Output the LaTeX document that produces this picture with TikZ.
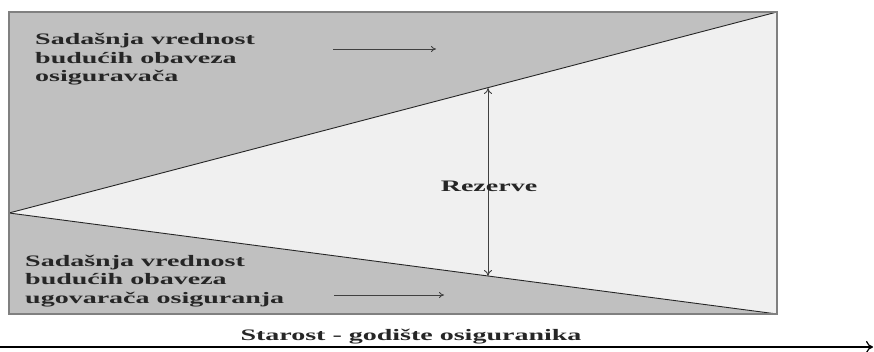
\documentclass[tikz,border=0pt]{standalone}
\usepackage{fontspec}
\newfontfamily\lab[FakeStretch=1.75]{Liberation Serif}
\usetikzlibrary{arrows.meta}
\definecolor{darkfill}{HTML}{C0C0C0}
\definecolor{lightfill}{HTML}{F0F0F0}
\definecolor{frame}{HTML}{808080}
\tikzset{
  txt/.style={font=\lab\bfseries\fontsize{16}{18.5}\selectfont, inner sep=0pt, align=left, text=black!85},
  thinarrow/.style={draw=black!75, line width=0.8pt, -{To[length=5pt,width=6pt]}},
  edge/.style={draw=black!85, line width=0.9pt}
}
\begin{document}
\begin{tikzpicture}[x=1pt,y=-1pt]
\useasboundingbox (0,0) rectangle (874,352);
% corners
\coordinate (tl) at (9,12);
\coordinate (tr) at (777,12);
\coordinate (br) at (777,314);
\coordinate (bl) at (9,314);
\coordinate (apex) at (9,213);
% regions
\fill[darkfill] (tl) rectangle (br);
\fill[lightfill] (apex) -- (tr) -- (br) -- cycle;
\draw[edge] (apex) -- (tr);
\draw[edge] (apex) -- (br);
\draw[frame, line width=2pt] (tl) rectangle (br);
% reserve arrow
\coordinate (rtop) at (488,88);
\coordinate (rbot) at (488,276);
\draw[draw=black!75, line width=0.9pt, {To[length=6pt,width=8pt]}-{To[length=6pt,width=8pt]}] (rtop) -- (rbot);
\node[txt, anchor=base] (rez) at (489,192) {Rezerve};
% upper text
\node[txt, anchor=base west] (up) at (35,82) {Sadašnja vrednost\\budućih obaveza\\osiguravača};
\coordinate (ua1) at (333,49);
\coordinate (ua2) at (436,49);
\draw[thinarrow] (ua1) -- (ua2);
% lower text
\node[txt, anchor=base west] (low) at (25,303) {Sadašnja vrednost\\budućih obaveza\\ugovarača osiguranja};
\coordinate (la1) at (334,295);
\coordinate (la2) at (444,295);
\draw[thinarrow] (la1) -- (la2);
% axis
\node[txt, anchor=base] (axl) at (411,340) {Starost - godište osiguranika};
\coordinate (ax1) at (0,347);
\coordinate (ax2) at (873,347);
\draw[black, line width=1.2pt, -{To[length=7pt,width=12pt]}] (ax1) -- (ax2);
\end{tikzpicture}
\end{document}
